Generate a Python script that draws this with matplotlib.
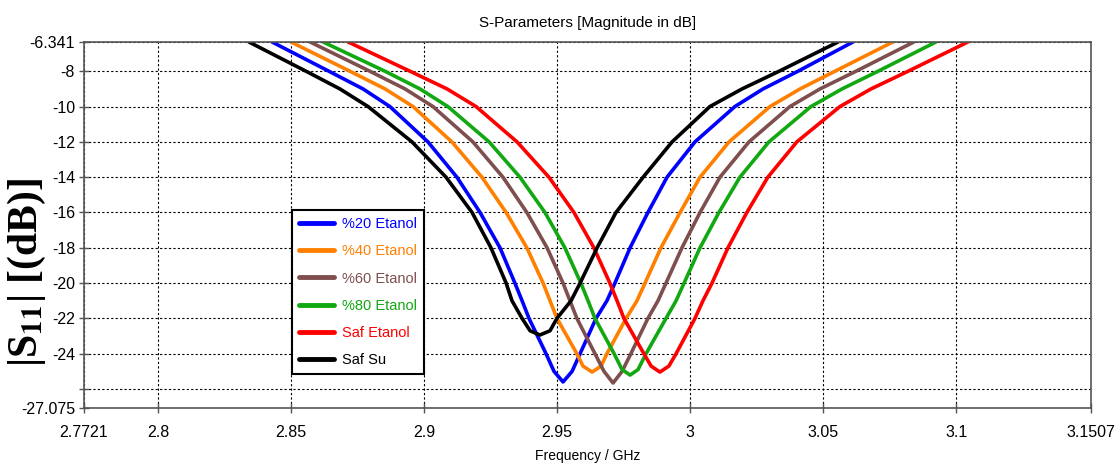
import matplotlib.pyplot as plt

# S11 curves (frequency in GHz, magnitude in dB)
f_20 = [2.8428, 2.8642, 2.8770, 2.8871, 2.9014, 2.9123, 2.9210, 2.9285, 2.9341, 2.9368, 2.9394,
        2.9458, 2.9488, 2.9522, 2.9556, 2.9586, 2.9646, 2.9687, 2.9717, 2.9774, 2.9841, 2.9913,
        3.0018, 3.0168, 3.0274, 3.0405, 3.0612]
s_20 = [-6.341, -8, -9, -10, -12, -14, -16, -18, -20, -21, -22, -24, -25, -25.6, -25, -24, -22, -21,
        -20, -18, -16, -14, -12, -10, -9, -8, -6.341]

f_40 = [2.8499, 2.8721, 2.8853, 2.8958, 2.9104, 2.9217, 2.9308, 2.9386, 2.9447, 2.9473, 2.9499,
        2.9574, 2.9597, 2.9631, 2.9665, 2.9687, 2.9759, 2.9800, 2.9830, 2.9890, 2.9962, 3.0037,
        3.0146, 3.0300, 3.0413, 3.0544, 3.0762]
s_40 = [-6.341, -8, -9, -10, -12, -14, -16, -18, -20, -21, -22, -24, -24.7, -25.04, -24.7, -24, -22,
        -21, -20, -18, -16, -14, -12, -10, -9, -8, -6.341]

f_60 = [2.8571, 2.8796, 2.8928, 2.9033, 2.9183, 2.9296, 2.9386, 2.9462, 2.9522, 2.9548, 2.9574,
        2.9642, 2.9676, 2.9710, 2.9744, 2.9777, 2.9841, 2.9879, 2.9909, 2.9969, 3.0037, 3.0112,
        3.0221, 3.0375, 3.0488, 3.0623, 3.0841]
s_60 = [-6.341, -8, -9, -10, -12, -14, -16, -18, -20, -21, -22, -24, -25, -25.66, -25, -24, -22, -21,
        -20, -18, -16, -14, -12, -10, -9, -8, -6.341]

f_80 = [2.8620, 2.8853, 2.8984, 2.9089, 2.9244, 2.9360, 2.9454, 2.9529, 2.9589, 2.9616, 2.9642,
        2.9714, 2.9744, 2.9774, 2.9804, 2.9834, 2.9909, 2.9947, 2.9977, 3.0037, 3.0108, 3.0187,
        3.0296, 3.0454, 3.0571, 3.0706, 3.0924]
s_80 = [-6.341, -8, -9, -10, -12, -14, -16, -18, -20, -21, -22, -24, -24.9, -25.21, -24.9, -24, -22,
        -21, -20, -18, -16, -14, -12, -10, -9, -8, -6.341]

f_saf = [2.8714, 2.8947, 2.9086, 2.9195, 2.9349, 2.9469, 2.9563, 2.9638, 2.9698, 2.9725, 2.9751,
         2.9826, 2.9853, 2.9886, 2.9920, 2.9947, 3.0018, 3.0048, 3.0082, 3.0142, 3.0213, 3.0292,
         3.0401, 3.0563, 3.0680, 3.0819, 3.1044]
s_saf = [-6.341, -8, -9, -10, -12, -14, -16, -18, -20, -21, -22, -24, -24.7, -25.04, -24.7, -24, -22,
         -21, -20, -18, -16, -14, -12, -10, -9, -8, -6.341]

f_su = [2.8341, 2.8556, 2.8683, 2.8789, 2.8954, 2.9082, 2.9180, 2.9251, 2.9308, 2.9330, 2.9368,
        2.9398, 2.9435, 2.9473, 2.9499, 2.9552, 2.9586, 2.9650, 2.9721, 2.9823, 2.9932, 3.0074,
        3.0195, 3.0334, 3.0556]
s_su = [-6.341, -8, -9, -10, -12, -14, -16, -18, -20, -21, -22, -22.7, -22.94, -22.7, -22, -21, -20,
        -18, -16, -14, -12, -10, -9, -8, -6.341]

labels = ["%20 Etanol", "%40 Etanol", "%60 Etanol", "%80 Etanol", "Saf Etanol", "Saf Su"]
colors = ["#0000FF", "#FF8000", "#7F4F4F", "#12A812", "#FF0000", "#000000"]

xticks = [2.7721, 2.8, 2.85, 2.9, 2.95, 3.0, 3.05, 3.1, 3.1507]
xticklabels = ["2.7721", "2.8", "2.85", "2.9", "2.95", "3", "3.05", "3.1", "3.1507"]
yticks = [-6.341, -8, -10, -12, -14, -16, -18, -20, -22, -24, -26, -27.075]
yticklabels = ["-6.341", "-8", "-10", "-12", "-14", "-16", "-18", "-20", "-22", "-24", "", "-27.075"]

plt.rcParams["font.family"] = ["Liberation Sans", "DejaVu Sans"]
plt.rcParams["mathtext.fontset"] = "stix"

fig = plt.figure(figsize=(11.16, 4.66), dpi=100)
ax = fig.add_axes([0.0753, 0.1245, 0.9023, 0.7854])

curves = [(f_20, s_20), (f_40, s_40), (f_60, s_60), (f_80, s_80), (f_saf, s_saf), (f_su, s_su)]
for (f, s), lab, c in zip(curves, labels, colors):
    ax.plot(f, s, color=c, linewidth=2.6, label=lab, solid_capstyle="round",
            solid_joinstyle="round")

ax.set_xlim(xticks[0], xticks[-1])
ax.set_ylim(yticks[-1], yticks[0])
ax.set_xticks(xticks)
ax.set_xticklabels(xticklabels, fontsize=11.5)
ax.set_yticks(yticks)
ax.set_yticklabels(yticklabels, fontsize=11.5)
ax.tick_params(direction="inout", length=7, width=1, color="#555555")
ax.tick_params(axis="x", pad=9)
ax.tick_params(axis="y", pad=3)
ax.grid(True, color="black", linestyle=(0, (2, 2)), linewidth=0.8)
for sp in ax.spines.values():
    sp.set_color("#555555")
    sp.set_linewidth(1.2)

ax.set_title("S-Parameters [Magnitude in dB]", fontsize=11, pad=11)
ax.set_xlabel("Frequency / GHz", fontsize=10, labelpad=6)
ax.set_ylabel(r"|S$_{\mathbf{11}}$| [(dB)]", fontsize=30, fontweight="bold",
              family="Liberation Serif")
ax.yaxis.set_label_coords(-0.036, 0.37)

leg = ax.legend(loc="upper left", bbox_to_anchor=(0.2066, 0.541), fontsize=10.5,
                labelcolor="linecolor", fancybox=False, framealpha=1, edgecolor="black",
                handlelength=2.4, handletextpad=0.5, borderpad=0.5, labelspacing=0.9,
                borderaxespad=0)
leg.get_frame().set_linewidth(1.5)
for line in leg.get_lines():
    line.set_linewidth(3.5)

fig.savefig("out.png", dpi=100)
